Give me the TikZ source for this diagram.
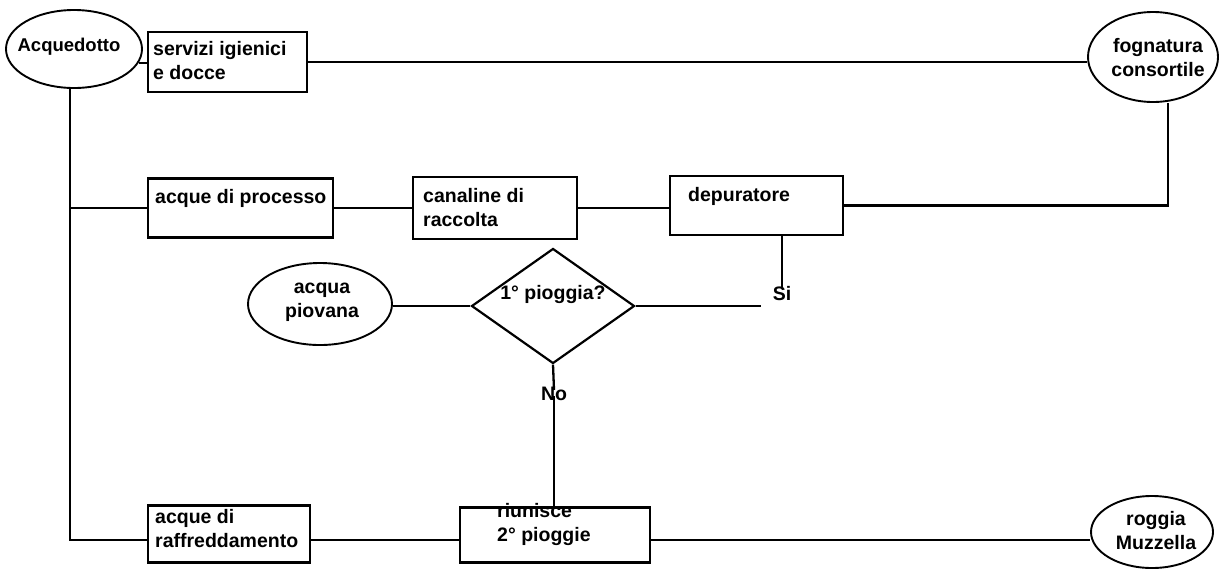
\documentclass[tikz,border=0pt]{standalone}
\usepackage{fontspec}
\setmainfont{Liberation Sans}
\usetikzlibrary{shapes.geometric}
\begin{document}
\begin{tikzpicture}[x=1pt,y=-1pt,
  every node/.style={font=\fontsize{19.5}{24}\selectfont\bfseries, inner sep=0pt},
  box/.style={draw, rectangle, line width=2.2pt},
  oval/.style={draw, ellipse, line width=1.9pt},
  otxt/.style={align=center},
  txt/.style={anchor=north west, align=left},
  conn/.style={line width=2.3pt},
  thick conn/.style={line width=2.9pt}]
\useasboundingbox[fill=white] (0,0) rectangle (1222,568);
% ellipses
\node[oval, minimum width=136, minimum height=78] (acq) at (74,49) {};
\node[otxt, font=\fontsize{18.5}{24}\selectfont\bfseries] (acqt) at (69,47) {Acquedotto};
\node[oval, minimum width=130, minimum height=90] (fog) at (1153,57) {};
\node[otxt] (fogt) at (1158,58) {fognatura\\consortile};
\node[oval, minimum width=144, minimum height=82] (piov) at (320,304) {};
\node[otxt] (piovt) at (322,302) {acqua\\piovana};
\node[oval, minimum width=122, minimum height=72] (rog) at (1152,532) {};
\node[otxt] (rogt) at (1156,531) {roggia\\Muzzella};
% boxes
\node[box, minimum width=159, minimum height=60] (serv) at (227.5,62) {};
\node[box, minimum width=185, minimum height=59] (proc) at (240.5,208) {};
\node[box, minimum width=164, minimum height=62] (can) at (495,208) {};
\node[box, minimum width=173, minimum height=59] (dep) at (756.5,205.5) {};
\node[box, minimum width=162, minimum height=57] (raff) at (229,534) {};
\node[box, minimum width=190, minimum height=55] (riun) at (555,535) {};
% decision
\node[draw, diamond, line width=2.2pt, minimum width=163, minimum height=115] (dia) at (553,306) {};
% box texts
\node[txt] (servt) at (153,41) {servizi igienici\\e docce};
\node[txt] (proct) at (155,189) {acque di processo};
\node[txt] (cant) at (423,188) {canaline di\\raccolta};
\node[txt] (dept) at (688,187) {depuratore};
\node[txt] (rafft) at (155,509) {acque di\\raffreddamento};
\node[txt] (riunt) at (497,503) {riunisce\\2° pioggie};
\node (diat) at (553,294) {1° pioggia?};
\node (si) at (782,294) {Si};
\node (no) at (554,394) {No};
\coordinate (low) at (0,540);
% connectors
\draw[conn] (acq.-12) -- (acq.-12 -| serv.west);
\draw[conn] (serv.east) -- (serv.east -| fog.west);
\draw[conn] (acq.south -| 70,0) |- (raff.west |- low);
\draw[conn] (70,0 |- proc.west) -- (proc.west);
\draw[conn] (proc.east) -- (proc.east -| can.west);
\draw[conn] (can.east) -- (can.east -| dep.west);
\draw[thick conn] (dep.east) -| (fog.south -| 1168,0);
\draw[conn] (si.north |- dep.south) -- ([yshift=-2pt]si.north);
\draw[conn] (dia.east) -- ([xshift=-12pt]dia.east -| si.west);
\draw[conn] (piov.east |- dia.west) -- (dia.west);
\draw[conn] (dia.south) -- ([yshift=-3pt]no.north);
\draw[conn] ([yshift=5pt]no.south) -- (riun.north -| no.south);
\draw[conn] (raff.east |- low) -- (riun.west |- low);
\draw[conn] (riun.east |- low) -- (rog.west |- low);
\end{tikzpicture}
\end{document}
